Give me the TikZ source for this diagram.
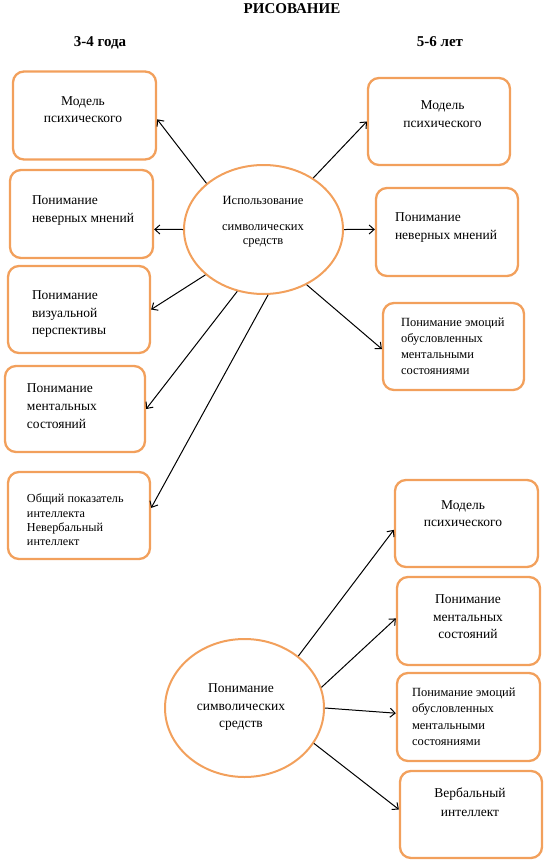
\documentclass[tikz,border=0pt]{standalone}
\usepackage{fontspec}
\setmainfont{Liberation Serif}
\usetikzlibrary{arrows.meta,shapes.geometric}
\definecolor{orng}{RGB}{242,160,92}
\newcommand\fsz[2]{\fontsize{#1pt}{#2pt}\selectfont}
\begin{document}
\begin{tikzpicture}[x=1pt,y=-1pt,
  box/.style={draw=orng, line width=2.3pt, rounded corners=11pt, inner sep=0pt},
  oval/.style={ellipse, draw=orng, line width=2pt, inner sep=0pt},
  txt/.style={inner sep=0pt, outer sep=0pt},
  arr/.style={draw=black, line width=1pt, -{Straight Barb[length=5pt,width=9pt]}}]
\useasboundingbox (0,0) rectangle (546,864);
% headings
\node[txt, anchor=north, font=\bfseries\fsz{15}{17}] (title) at (292,4) {РИСОВАНИЕ};
\node[txt, anchor=north, font=\bfseries\fsz{15}{17}] (ageA) at (100,36.5) {3-4 года};
\node[txt, anchor=north, font=\bfseries\fsz{15}{17}] (ageB) at (440,36.5) {5-6 лет};
% left boxes
\node[box, minimum width=143pt, minimum height=88pt] (L1) at (84.5,115.5) {};
\node[box, minimum width=143pt, minimum height=88pt] (L2) at (81.5,214) {};
\node[box, minimum width=142pt, minimum height=87pt] (L3) at (79,309.5) {};
\node[box, minimum width=140pt, minimum height=86pt] (L4) at (75,409) {};
\node[box, minimum width=142pt, minimum height=87pt] (L5) at (79,515.5) {};
% right boxes (top)
\node[box, minimum width=142pt, minimum height=87pt] (R1) at (439,121.5) {};
\node[box, minimum width=142pt, minimum height=88pt] (R2) at (447,232) {};
\node[box, minimum width=141pt, minimum height=87pt] (R3) at (453.5,346.5) {};
% right boxes (bottom)
\node[box, minimum width=143pt, minimum height=87pt] (B1) at (466.5,523.5) {};
\node[box, minimum width=143pt, minimum height=88pt] (B2) at (468.5,621) {};
\node[box, minimum width=143pt, minimum height=88pt] (B3) at (468.5,717) {};
\node[box, minimum width=142pt, minimum height=87pt] (B4) at (471,814.5) {};
% ellipses
\node[oval, minimum width=159pt, minimum height=129pt] (E1) at (263.5,229.5) {};
\node[oval, minimum width=159pt, minimum height=138pt] (E2) at (244.5,708) {};
% texts
\node[txt, anchor=north, align=center, font=\fsz{13.5}{17}] (L1t) at (83,97) {Модель\\психического};
\node[txt, anchor=north west, align=left, font=\fsz{13.5}{18}] (L2t) at (32,196) {Понимание\\неверных мнений};
\node[txt, anchor=north west, align=left, font=\fsz{13.5}{17.5}] (L3t) at (32,291) {Понимание\\визуальной\\перспективы};
\node[txt, anchor=north west, align=left, font=\fsz{13.5}{18}] (L4t) at (27,384) {Понимание\\ментальных\\состояний};
\node[txt, anchor=north west, align=left, font=\fsz{12.2}{14.3}] (L5t) at (27,494) {Общий показатель\\интеллекта\\Невербальный\\интеллект};
\node[txt, anchor=north, align=center, font=\fsz{13.5}{18}] (R1t) at (442.5,101) {Модель\\психического};
\node[txt, anchor=north west, align=left, font=\fsz{13.5}{18}] (R2t) at (395,213) {Понимание\\неверных мнений};
\node[txt, anchor=north west, align=left, font=\fsz{12.5}{16.3}] (R3t) at (401,317.5) {Понимание эмоций\\обусловленных\\ментальными\\состояниями};
\node[txt, anchor=north, align=center, font=\fsz{13.5}{17}] (B1t) at (463,501) {Модель\\психического};
\node[txt, anchor=north, align=center, font=\fsz{13.5}{17.5}] (B2t) at (468,595) {Понимание\\ментальных\\состояний};
\node[txt, anchor=north west, align=left, font=\fsz{12.5}{16.6}] (B3t) at (412,687.5) {Понимание эмоций\\обусловленных\\ментальными\\состояниями};
\node[txt, anchor=north, align=center, font=\fsz{13.5}{19}] (B4t) at (470,788) {Вербальный\\интеллект};
\node[txt, anchor=north, align=center, font=\fsz{12.5}{14}] (E1t) at (263,196) {Использование\\[12.7pt]символических\\средств};
\node[txt, anchor=north, align=center, font=\fsz{13.5}{17.5}] (E2t) at (241,684) {Понимание\\символических\\средств};
% connectors (top)
\draw[arr] (E1.141.8) -- (L1.-3.6);
\draw[arr] (E1.46) -- (R1.west);
\draw[arr] (E1.180) -- (L2.-12.6);
\draw[arr] (E1.0) -- (R2.178.4);
\draw[arr] (E1.218.6) -- (L3.east);
\draw[arr] (E1.308.5) -- (R3.182.8);
\draw[arr] (E1.247.7) -- (L4.east);
\draw[arr] (E1.274) -- (L5.6.5);
% connectors (bottom)
\draw[arr] (E2.44.2) -- (B1.185.3);
\draw[arr] (E2.15.3) -- (B2.178.4);
\draw[arr] (E2.0) -- (B3.177.2);
\draw[arr] (E2.-27.5) -- (B4.176.5);
\end{tikzpicture}
\end{document}
